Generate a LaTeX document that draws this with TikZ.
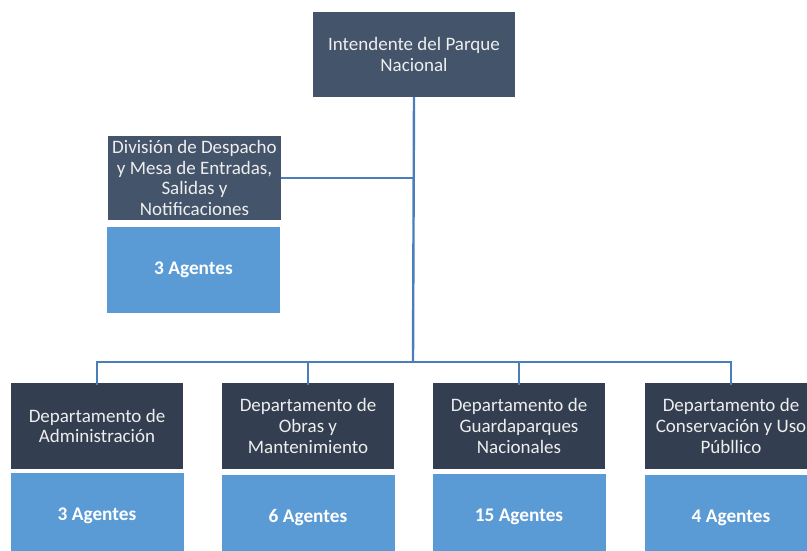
\documentclass[tikz,border=0pt]{standalone}
\usepackage{fontspec}
\setmainfont{Carlito}
\definecolor{slateA}{HTML}{44546A}
\definecolor{slateB}{HTML}{333F50}
\definecolor{lightblue}{HTML}{5B9BD5}
\definecolor{linkblue}{HTML}{4A7EBB}
\definecolor{txtw}{HTML}{EEEEEE}
\begin{document}
\begin{tikzpicture}[x=1pt,y=-1pt,
  boxbase/.style={inner sep=0pt, align=center, text=txtw,
    font=\fontsize{19}{20.8}\selectfont},
  headbox/.style={boxbase, fill=slateA, minimum width=202pt, minimum height=85pt},
  divbox/.style={boxbase, fill=slateA, minimum width=173pt, minimum height=84pt},
  deptbox/.style={boxbase, fill=slateB, minimum width=172pt, minimum height=86pt},
  agentbox/.style={boxbase, fill=lightblue, text=white, minimum width=173pt, minimum height=86pt,
    font=\fontsize{19.3}{21}\selectfont\bfseries},
  link/.style={draw=linkblue, line width=2.4pt}]
\useasboundingbox (0,0) rectangle (807,550);
\clip (0,0) rectangle (807,550);
\node[headbox] (top) at (414,54.5) {Intendente del Parque\\Nacional};
\node[divbox] (div) at (194.5,178) {División de Despacho\\y Mesa de Entradas,\\Salidas y\\Notificaciones};
\node[agentbox] (diva) at (193.5,269.5) {3 Agentes};
\node[deptbox] (d1) at (97,426) {Departamento de\\Administración};
\node[deptbox] (d2) at (308,426) {Departamento de\\Obras y\\Mantenimiento};
\node[deptbox] (d3) at (519,426) {Departamento de\\Guardaparques\\Nacionales};
\node[deptbox] (d4) at (731,426) {Departamento de\\Conservación y Uso\\Públlico};
\node[agentbox] (a1) at (97,516) {3 Agentes};
\node[agentbox] (a2) at (308,518) {6 Agentes};
\node[agentbox] (a3) at (519,517) {15 Agentes};
\node[agentbox] (a4) at (731,518) {4 Agentes};
\coordinate (bus) at (413,362);
\draw[link] (top.south) -- (bus);
\draw[link] (div.east) -- (div.east -| bus);
\draw[link] ([yshift=-2pt]d1.north) |- (bus) -| ([yshift=-2pt]d4.north);
\draw[link] ([yshift=-2pt]d2.north) -- (d2.north |- bus);
\draw[link] ([yshift=-2pt]d3.north) -- (d3.north |- bus);
\end{tikzpicture}
\end{document}
